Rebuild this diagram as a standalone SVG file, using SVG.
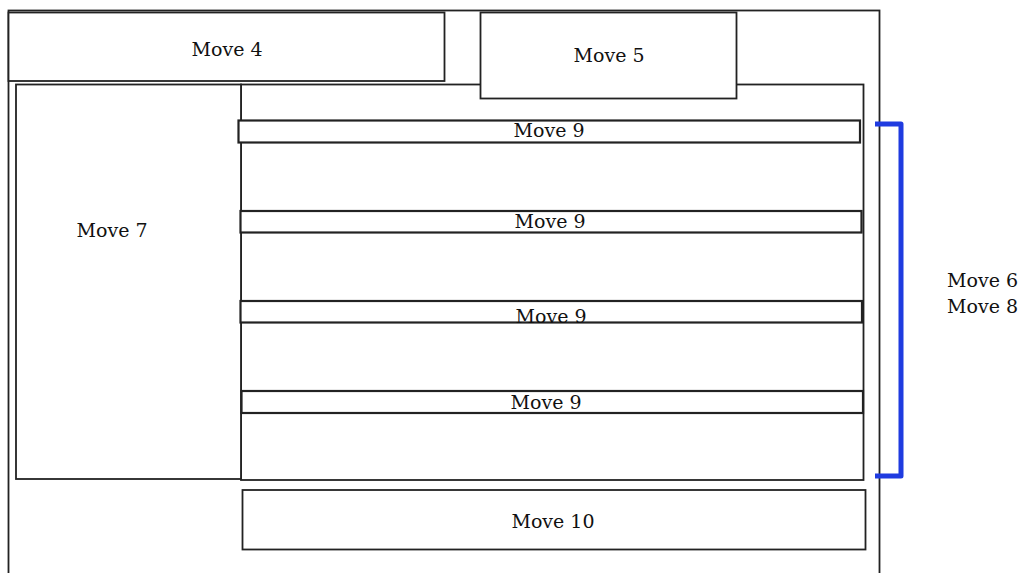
<svg xmlns="http://www.w3.org/2000/svg" width="1021" height="573" viewBox="0 0 1021 573">
<style>
.box{fill:#fff;stroke:#222;stroke-width:1.8}
.bar{fill:#fff;stroke:#222;stroke-width:2.2}
.lbl{font-family:"DejaVu Serif","Liberation Serif",serif;font-size:19px;fill:#111}
.mid{text-anchor:middle}
</style>
<rect width="1021" height="573" fill="#fff"/>
<g id="frame"><rect class="box" x="8.5" y="10.5" width="871" height="575" fill="none"/></g>
<g id="move4"><rect class="box" x="8.5" y="12.5" width="436" height="68.5"/><text class="lbl mid" x="227" y="56">Move 4</text></g>
<g id="move6-8"><rect class="box" x="241" y="84.5" width="622.5" height="395.5"/></g>
<g id="move5"><rect class="box" x="480.5" y="12.5" width="256" height="86"/><text class="lbl mid" x="609" y="62">Move 5</text></g>
<g id="move7"><rect class="box" x="16" y="84.5" width="225" height="394.5"/><text class="lbl mid" x="112" y="237">Move 7</text></g>
<g id="move9a"><rect class="bar" x="238.5" y="120.5" width="621.5" height="22"/><text class="lbl mid" x="549" y="137">Move 9</text></g>
<g id="move9b"><rect class="bar" x="240.5" y="211" width="621" height="21.5"/><text class="lbl mid" x="550" y="228">Move 9</text></g>
<g id="move9c"><rect class="bar" x="240.5" y="301" width="621.5" height="21.5"/><text class="lbl mid" x="551" y="323">Move 9</text></g>
<g id="move9d"><rect class="bar" x="241.5" y="391" width="621.5" height="22"/><text class="lbl mid" x="546" y="409">Move 9</text></g>
<g id="move10"><rect class="box" x="242.5" y="490" width="623" height="59.5"/><text class="lbl mid" x="553" y="528">Move 10</text></g>
<g id="connectors"><path d="M875 124 H901 V476 H875" fill="none" stroke="#1f3be0" stroke-width="5" stroke-linejoin="round"/></g>
<g id="label68"><text class="lbl" x="947" y="287">Move 6</text><text class="lbl" x="947" y="313">Move 8</text></g>
</svg>
